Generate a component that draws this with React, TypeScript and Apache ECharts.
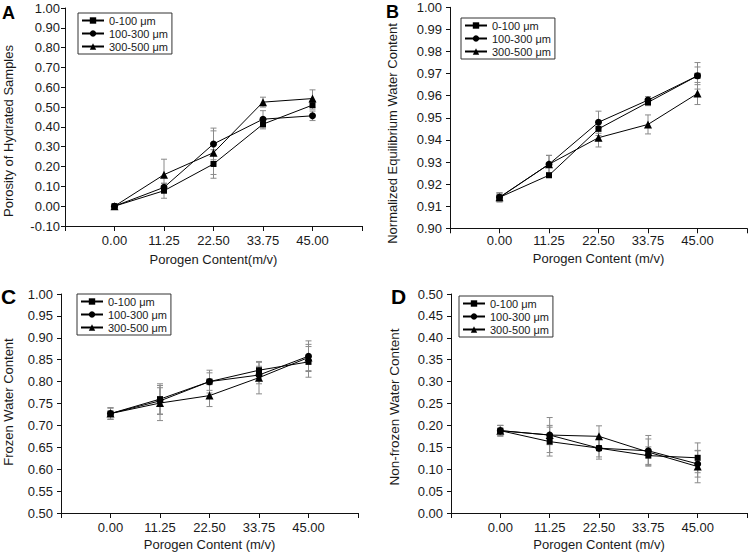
import React, { useEffect, useRef } from "react";
import * as echarts from "echarts";

const xValues = [0, 11.25, 22.5, 33.75, 45];
const seriesNames = ["0-100 μm", "100-300 μm", "300-500 μm"];
const symbols = ["rect", "circle", "triangle"];
const symbolSizes = [6, 7, 8];

// Panel A: porosity of hydrated samples
const porosity0_100 = [0.0, 0.078, 0.213, 0.414, 0.51];
const porosity100_300 = [0.0, 0.095, 0.314, 0.439, 0.456];
const porosity300_500 = [0.0, 0.159, 0.27, 0.525, 0.543];
const porosityErr0_100 = [0.005, 0.038, 0.072, 0.024, 0.02];
const porosityErr100_300 = [0.005, 0.02, 0.08, 0.043, 0.024];
const porosityErr300_500 = [0.005, 0.078, 0.11, 0.025, 0.044];

// Panel B: normalized equilibrium water content
const ewc0_100 = [0.914, 0.924, 0.945, 0.957, 0.969];
const ewc100_300 = [0.914, 0.929, 0.948, 0.958, 0.969];
const ewc300_500 = [0.914, 0.929, 0.941, 0.947, 0.961];
const ewcErr0_100 = [0.002, 0.001, 0.003, 0.0015, 0.004];
const ewcErr100_300 = [0.002, 0.004, 0.005, 0.0016, 0.006];
const ewcErr300_500 = [0.002, 0.004, 0.0042, 0.0043, 0.005];

// Panel C: frozen water content
const frozen0_100 = [0.727, 0.76, 0.8, 0.826, 0.845];
const frozen100_300 = [0.727, 0.756, 0.8, 0.815, 0.858];
const frozen300_500 = [0.727, 0.751, 0.768, 0.809, 0.855];
const frozenErr0_100 = [0.013, 0.035, 0.02, 0.018, 0.035];
const frozenErr100_300 = [0.013, 0.03, 0.026, 0.02, 0.035];
const frozenErr300_500 = [0.013, 0.04, 0.025, 0.037, 0.03];

// Panel D: non-frozen water content
const nonfrozen0_100 = [0.188, 0.163, 0.148, 0.131, 0.126];
const nonfrozen100_300 = [0.188, 0.178, 0.148, 0.142, 0.112];
const nonfrozen300_500 = [0.188, 0.178, 0.175, 0.139, 0.106];
const nonfrozenErr0_100 = [0.012, 0.033, 0.025, 0.02, 0.034];
const nonfrozenErr100_300 = [0.012, 0.022, 0.02, 0.035, 0.03];
const nonfrozenErr300_500 = [0.012, 0.04, 0.024, 0.03, 0.037];

const panelLetters = ["A", "B", "C", "D"];
const yAxisNames = [
  "Porosity of Hydrated Samples",
  "Normalized Equilibrium Water Content",
  "Frozen Water Content",
  "Non-frozen Water Content",
];
const xAxisNames = [
  "Porogen Content(m/v)",
  "Porogen Content (m/v)",
  "Porogen Content (m/v)",
  "Porogen Content (m/v)",
];
const yMins = [-0.1, 0.9, 0.5, 0.0];
const yMaxs = [1.0, 1.0, 1.0, 0.5];
const yIntervals = [0.1, 0.01, 0.05, 0.05];

const FONT = "'Liberation Sans', Arial, Helvetica, sans-serif";
const TEXT = "#1a1a1a";

export default function App() {
  const ref = useRef<HTMLDivElement>(null);

  useEffect(() => {
    if (!ref.current) return;
    const chart = echarts.init(ref.current, undefined, { renderer: "svg" });

    const panelValues = [
      [porosity0_100, porosity100_300, porosity300_500],
      [ewc0_100, ewc100_300, ewc300_500],
      [frozen0_100, frozen100_300, frozen300_500],
      [nonfrozen0_100, nonfrozen100_300, nonfrozen300_500],
    ];
    const panelErrors = [
      [porosityErr0_100, porosityErr100_300, porosityErr300_500],
      [ewcErr0_100, ewcErr100_300, ewcErr300_500],
      [frozenErr0_100, frozenErr100_300, frozenErr300_500],
      [nonfrozenErr0_100, nonfrozenErr100_300, nonfrozenErr300_500],
    ];

    const grids = [
      { left: 65, top: 8, width: 297, height: 218 },
      { left: 450, top: 7.3, width: 297, height: 221 },
      { left: 61, top: 294, width: 297, height: 219 },
      { left: 451, top: 294, width: 297, height: 219 },
    ];
    const xNameGaps = [27, 24, 25, 25];
    const xLabelMargins = [8, 6, 8, 8];
    const yLabelMargins = [5, 8, 8, 8];
    const yNamePos = [
      { x: 8.5, y: 131, size: 13 },
      { x: 392, y: 133.5, size: 13 },
      { x: 8.5, y: 402, size: 13 },
      { x: 394, y: 407, size: 13.5 },
    ];
    const letterPos = [
      { x: 2, y: 4, size: 18 },
      { x: 386, y: 3, size: 18 },
      { x: 1, y: 286, size: 21 },
      { x: 391, y: 286, size: 21 },
    ];
    const legendPos = [
      { left: 78, top: 13 },
      { left: 461, top: 18 },
      { left: 77, top: 294 },
      { left: 459, top: 296 },
    ];

    const xAxes = grids.map((_, i) => ({
      type: "value",
      gridIndex: i,
      min: -11.25,
      max: 56.25,
      interval: 11.25,
      name: xAxisNames[i],
      nameLocation: "middle",
      nameGap: xNameGaps[i],
      nameTextStyle: { color: TEXT, fontSize: 13, fontFamily: FONT },
      axisLine: { show: true, onZero: false, lineStyle: { color: "#111", width: 1 } },
      axisTick: { show: true, inside: false, length: 5, lineStyle: { color: "#111" } },
      splitLine: { show: false },
      axisLabel: {
        color: TEXT,
        fontSize: 13,
        fontFamily: FONT,
        margin: xLabelMargins[i],
        formatter: (v: number) => (v < -0.01 || v > 45.01 ? "" : v.toFixed(2)),
      },
    }));

    const yAxes = grids.map((_, i) => ({
      type: "value",
      gridIndex: i,
      min: yMins[i],
      max: yMaxs[i],
      interval: yIntervals[i],
      axisLine: { show: true, onZero: false, lineStyle: { color: "#111", width: 1 } },
      axisTick: { show: true, inside: false, length: 4, lineStyle: { color: "#111" } },
      splitLine: { show: false },
      axisLabel: {
        color: TEXT,
        fontSize: 13,
        fontFamily: FONT,
        margin: yLabelMargins[i],
        formatter: (v: number) => v.toFixed(2),
      },
    }));

    const series: any[] = [];
    panelValues.forEach((group, p) => {
      group.forEach((vals, s) => {
        const errs = panelErrors[p][s];
        series.push({
          type: "custom",
          name: `err-${p}-${s}`,
          xAxisIndex: p,
          yAxisIndex: p,
          z: 1,
          silent: true,
          encode: { x: 0, y: 1 },
          data: xValues.map((x, k) => [x, vals[k], errs[k]]),
          renderItem: (params: any, api: any) => {
            const x = api.value(0);
            const y = api.value(1);
            const e = api.value(2);
            const top = api.coord([x, y + e]);
            const bot = api.coord([x, y - e]);
            const w = 3;
            const style = { stroke: "#8a8a8a", lineWidth: 1, fill: "none" };
            return {
              type: "group",
              children: [
                { type: "line", shape: { x1: top[0], y1: top[1], x2: bot[0], y2: bot[1] }, style },
                { type: "line", shape: { x1: top[0] - w, y1: top[1], x2: top[0] + w, y2: top[1] }, style },
                { type: "line", shape: { x1: bot[0] - w, y1: bot[1], x2: bot[0] + w, y2: bot[1] }, style },
              ],
            };
          },
        });
      });
    });
    panelValues.forEach((group, p) => {
      group.forEach((vals, s) => {
        series.push({
          type: "line",
          name: seriesNames[s],
          xAxisIndex: p,
          yAxisIndex: p,
          z: 3,
          data: xValues.map((x, k) => [x, vals[k]]),
          symbol: symbols[s],
          symbolSize: symbolSizes[s],
          itemStyle: { color: "#000" },
          lineStyle: { color: "#000", width: 1 },
        });
      });
    });

    const legends = legendPos.map((pos) => ({
      left: pos.left,
      top: pos.top,
      orient: "vertical",
      data: seriesNames,
      selectedMode: false,
      itemWidth: 22,
      itemHeight: 8,
      itemGap: 2,
      padding: [2, 4, 2, 3],
      borderColor: "#333",
      borderWidth: 1,
      textStyle: { color: TEXT, fontSize: 11, fontFamily: FONT },
    }));

    const graphics: any[] = [];
    letterPos.forEach((lp, i) => {
      graphics.push({
        type: "text",
        left: lp.x,
        top: lp.y,
        style: {
          text: panelLetters[i],
          fontSize: lp.size,
          fontWeight: "bold",
          fontFamily: FONT,
          fill: "#000",
        },
      });
    });
    yNamePos.forEach((np, i) => {
      graphics.push({
        type: "text",
        x: np.x,
        y: np.y,
        rotation: Math.PI / 2,
        style: {
          text: yAxisNames[i],
          fontSize: np.size,
          fontFamily: FONT,
          fill: TEXT,
          textAlign: "center",
          textVerticalAlign: "middle",
        },
      });
    });

    chart.setOption({
      animation: false,
      backgroundColor: "#fff",
      grid: grids.map((g) => ({ ...g, containLabel: false })),
      xAxis: xAxes,
      yAxis: yAxes,
      legend: legends,
      series,
      graphic: graphics,
    });

    return () => chart.dispose();
  }, []);

  return (
    <div
      ref={ref}
      style={{ position: "fixed", left: 0, top: 0, width: 750, height: 556, background: "#fff" }}
    />
  );
}
